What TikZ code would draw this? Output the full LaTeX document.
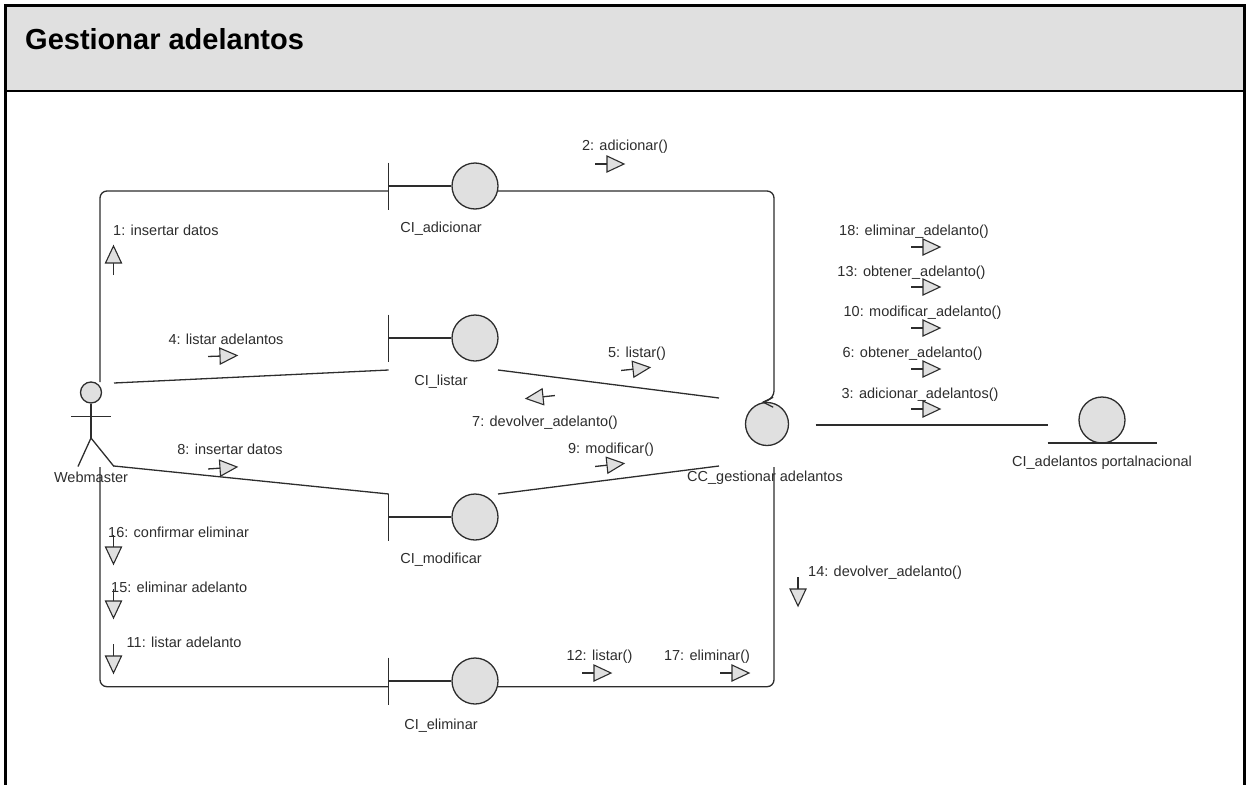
\documentclass[tikz,border=0pt]{standalone}
\usepackage{fontspec}
\setmainfont{Liberation Sans}
\usetikzlibrary{calc}
\definecolor{boxgray}{RGB}{224,224,224}
\definecolor{ink}{RGB}{45,45,45}
\begin{document}
\begin{tikzpicture}[x=1pt,y=-1pt,
  conn/.style={draw=ink, line width=1.3pt},
  lbl/.style={font=\fontsize{14.5}{16}\selectfont, text=ink, inner sep=0pt},
  roundicon/.style={circle, draw=ink, line width=1.3pt, fill=boxgray, inner sep=0pt, minimum size=#1},
  msg/.pic={
    \draw[conn] (-14,0) -- (-2,0);
    \draw[conn, line width=1.1pt, fill=boxgray, line join=miter] (-2,-8) -- (15,0) -- (-2,8) -- cycle;
  }]
\useasboundingbox (0,0) rectangle (1246,784);

% frame and header
\fill[boxgray] (5.5,5.5) rectangle (1244.5,91);
\draw[line width=2.7pt] (5.5,820) -- (5.5,5.5) -- (1244.5,5.5) -- (1244.5,820);
\draw[line width=2.5pt] (5.5,91) -- (1244.5,91);
\node[anchor=base west, inner sep=0pt, font=\fontsize{29}{31}\selectfont\bfseries] (title) at (25,50) {Gestionar adelantos};

% actor
\node[roundicon=21] (wmhead) at (91,392.5) {};
\coordinate (wmhip) at (91,438);
\draw[conn] (wmhead.south) -- (wmhip);
\draw[conn] (71,416.5) -- (111,416.5);
\draw[conn] (78,466.5) -- (wmhip) -- (114,466.5);
\node[lbl] (wm) at (91,477) {Webmaster};

% boundary objects
\foreach \nm/\yy/\txt/\ty in {adic/186/CI\_adicionar/229, list/338/CI\_listar/381.5, modi/517/CI\_modificar/560, elim/681/CI\_eliminar/725.5}{
  \node[roundicon=46] (\nm) at (475,\yy) {};
  \draw[conn] (388.7,\yy-23.5) -- (388.7,\yy+23.5);
  \draw[conn] (388.7,\yy) -- (\nm.west);
  \node[lbl] (\nm lbl) at (441,\ty) {\txt};
}

% control object
\node[roundicon=43] (cc) at (767,424) {};
\draw[conn] ($(cc.100)+(10,-5)$) -- (cc.100) -- ($(cc.100)+(10,5)$);
\node[lbl] (cclbl) at (765,477.5) {CC\_gestionar adelantos};

% entity object
\node[roundicon=46] (ent) at (1102,420) {};
\draw[conn] (1047.7,443) -- (1156.7,443);
\node[lbl] (entlbl) at (1102,463) {CI\_adelantos portalnacional};

% connector end points
\coordinate (wmtop) at (100,382);
\coordinate (wmbot) at (100,467);
\coordinate (wmL1) at (114,383);
\coordinate (wmL2) at (114,466);
\coordinate (listL) at (388.7,370);
\coordinate (listR) at (498,370);
\coordinate (modiL) at (388.7,494);
\coordinate (modiR) at (498,494);
\coordinate (ccL1) at (719,398);
\coordinate (ccL2) at (719,466);
\coordinate (ccdown) at (774,467);
\coordinate (ccright) at (815.7,425);
\coordinate (entleft) at (1047.7,425);

% links
\draw[conn, rounded corners=7] (wmtop) -- (100,191) -- (388.7,191);
\draw[conn, rounded corners=7] (adic.-12) -- (774,191) -- (774,398) -- (cc.100);
\draw[conn] (wmL1) -- (listL);
\draw[conn] (listR) -- (ccL1);
\draw[conn] (wmL2) -- (modiL);
\draw[conn] (modiR) -- (ccL2);
\draw[conn, rounded corners=7] (wmbot) -- (100,686.7) -- (388.7,686.7);
\draw[conn, rounded corners=7] (ccdown) -- (774,686.7) -- (elim.-14);
\draw[conn] (ccright) -- (entleft);

% messages
\pic[rotate=90] at (113.5,261) {msg};
\node[lbl, anchor=west] (m1) at (113,230) {1: insertar datos};
\pic at (609,164) {msg};
\node[lbl] (m2) at (625,147) {2: adicionar()};
\pic[rotate=2] at (222,356) {msg};
\node[lbl] (m4) at (226,339) {4: listar adelantos};
\pic[rotate=6] at (635,369) {msg};
\node[lbl] (m5) at (637,354) {5: listar()};
\pic[rotate=-174] at (541,397) {msg};
\node[lbl] (m7) at (545,422.5) {7: devolver\_adelanto()};
\pic[rotate=4] at (222,468) {msg};
\node[lbl] (m8) at (230,449.5) {8: insertar datos};
\pic[rotate=6] at (609,465) {msg};
\node[lbl] (m9) at (611,450) {9: modificar()};

\pic at (925,247) {msg};
\node[lbl] (m18) at (914,231.5) {18: eliminar\_adelanto()};
\pic at (925,287) {msg};
\node[lbl] (m13) at (911.5,273) {13: obtener\_adelanto()};
\pic at (925,328) {msg};
\node[lbl] (m10) at (922.5,313) {10: modificar\_adelanto()};
\pic at (925,369) {msg};
\node[lbl] (m6) at (912.5,354) {6: obtener\_adelanto()};
\pic at (925,409) {msg};
\node[lbl] (m3) at (920,394.5) {3: adicionar\_adelantos()};

\pic[rotate=-90] at (798,591) {msg};
\node[lbl, anchor=west] (m14) at (808,573) {14: devolver\_adelanto()};
\pic[rotate=-90] at (113.5,549) {msg};
\node[lbl, anchor=west] (m16) at (108,532) {16: confirmar eliminar};
\pic[rotate=-90] at (113.5,603) {msg};
\node[lbl, anchor=west] (m15) at (111,587) {15: eliminar adelanto};
\pic[rotate=-90] at (113.5,658) {msg};
\node[lbl, anchor=west] (m11) at (126.5,642.5) {11: listar adelanto};
\pic at (596,673) {msg};
\node[lbl] (m12) at (599.5,657) {12: listar()};
\pic at (734,673) {msg};
\node[lbl] (m17) at (707,657) {17: eliminar()};
\end{tikzpicture}
\end{document}
